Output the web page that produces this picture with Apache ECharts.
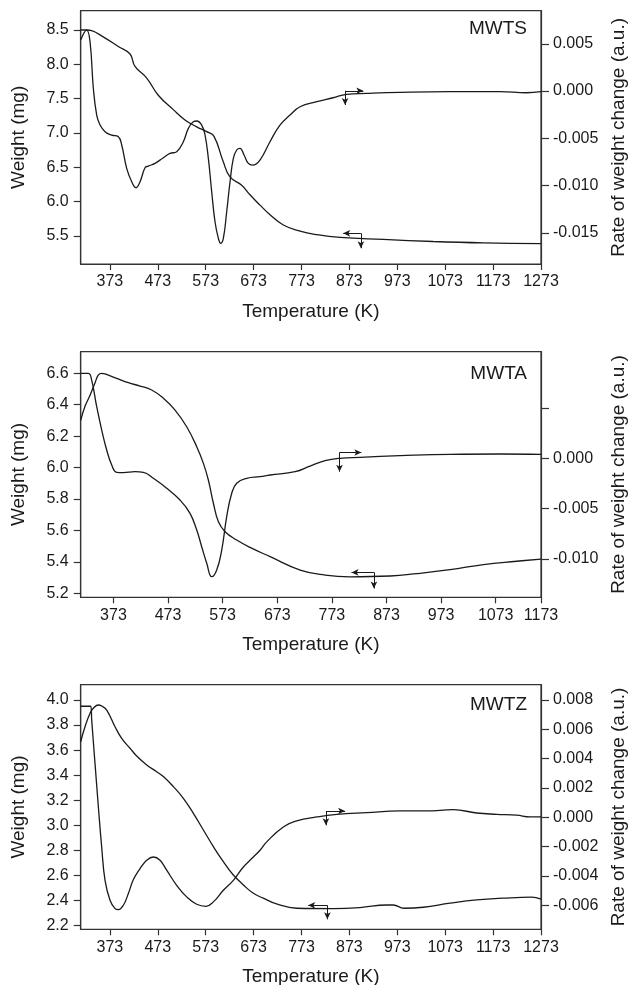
<!DOCTYPE html>
<html>
<head>
<meta charset="utf-8">
<title>TG / DTG curves</title>
<script src="https://cdn.jsdelivr.net/npm/echarts@6/dist/echarts.min.js"></script>
<style>
  html, body { margin: 0; padding: 0; background: #fff; }
  #main { width: 632px; height: 985px; }
</style>
</head>
<body>
<div id="main"></div>
<script>
// ---- data: [temperature K, value] ----
var mwtsWeight = [[312, 8.50], [324.5, 8.50], [335, 8.49], [359, 8.40], [390.5, 8.26], [415, 8.15], [425.4, 7.97],
	[449.8, 7.80], [474, 7.55], [505.3, 7.34], [529.7, 7.19], [554.2, 7.09], [575, 7.02], [590.3, 6.95],
	[609.7, 6.58], [623.7, 6.36], [648.1, 6.24], [665.4, 6.10], [686.3, 5.95], [707.2, 5.81], [735, 5.66],
	[770, 5.57], [804.7, 5.52], [853.3, 5.48], [943.7, 5.45], [1048, 5.42], [1152.5, 5.40], [1273, 5.39]];
var mwtsRate = [[312, 0.0054], [324.5, 0.00645], [331.5, 0.00522], [338.4, 0.00029], [345.4, -0.00254],
	[352.4, -0.0036], [362.8, -0.0043], [376.7, -0.00466], [390.6, -0.00483], [397.6, -0.00571], [408, -0.00818],
	[418.5, -0.0096], [427.5, -0.01023], [435.9, -0.0096], [446.3, -0.00811], [453.3, -0.00794], [467.2, -0.00765],
	[484.6, -0.00705], [498.5, -0.0066], [512.4, -0.00642], [526.3, -0.00536], [536.8, -0.00395], [547.2, -0.00325],
	[554.2, -0.00317], [564.6, -0.0036], [571.6, -0.00466], [578.5, -0.00712], [585.5, -0.01065], [592.4, -0.01383],
	[599.4, -0.01559], [604.3, -0.01611], [609.8, -0.01559], [616.8, -0.01277], [623.8, -0.0096], [630.7, -0.00712],
	[637.7, -0.00624], [644.6, -0.00606], [653, -0.00677], [662, -0.00765], [671.1, -0.00783], [686.3, -0.0073],
	[707.2, -0.00536], [728, -0.0036], [749, -0.00254], [770, -0.00166], [805, -0.00113], [839, -0.00071],
	[867, -0.00035], [909, -0.00025], [979, -0.00014], [1083, -0.00007], [1187, -0.00007], [1243, -0.00018], [1273, -0.00007]];

var mwtaWeight = [[313, 6.30], [320.9, 6.39], [330.1, 6.46], [339.3, 6.54], [345.4, 6.59], [351.5, 6.60], [357.6, 6.596],
	[378.9, 6.568], [400.3, 6.54], [421.7, 6.519], [443, 6.494], [464.4, 6.441], [485.8, 6.366], [507.1, 6.26],
	[525.5, 6.133], [537.7, 6.027], [546.8, 5.921], [556, 5.773], [565.2, 5.655], [577.4, 5.592], [598.7, 5.539],
	[623.1, 5.492], [660, 5.433], [715, 5.348], [760.6, 5.316], [806.4, 5.305], [879.7, 5.31], [928.5, 5.325],
	[989.5, 5.35], [1050.6, 5.383], [1111.6, 5.404], [1156, 5.418]];
var mwtaRate = [[313, 0.00845], [327, 0.00845], [333.1, 0.00778], [342.3, 0.00513], [351.5, 0.00281], [360.6, 0.00083],
	[369.8, -0.00067], [378.9, -0.00139], [391.1, -0.00142], [412.5, -0.00133], [427.8, -0.00139], [446.1, -0.00199],
	[470.5, -0.00298], [494.9, -0.00415], [513.2, -0.00547], [525.5, -0.00713], [534.6, -0.00879], [543.8, -0.01044],
	[553, -0.01177], [562.1, -0.0111], [571.3, -0.00911], [580.4, -0.0058], [589.6, -0.00348], [598.7, -0.00248],
	[617, -0.00199], [641.4, -0.00183], [660, -0.00166], [705.7, -0.00133], [733, -0.00077], [760.6, -0.00024],
	[788, 0], [824.6, 0.0001], [898, 0.00026], [989.5, 0.0004], [1081, 0.00043], [1156, 0.0004]];

var mwtzWeight = [[312, 3.667], [321, 3.787], [331.5, 3.894], [338.4, 3.934], [348.9, 3.96], [355.8, 3.952], [366.3, 3.92],
	[383.7, 3.787], [397.6, 3.694], [415, 3.615], [428.9, 3.553], [449.8, 3.482], [470.7, 3.428], [484.6, 3.389],
	[505.5, 3.309], [526.3, 3.216], [547.2, 3.096], [568.1, 2.963], [589, 2.83], [609.8, 2.71], [630.7, 2.604],
	[651.6, 2.525], [672.5, 2.458], [693.2, 2.419], [721, 2.373], [763, 2.339], [839.4, 2.336], [895, 2.344],
	[950.8, 2.365], [964.6, 2.365], [987, 2.339], [1027.3, 2.347], [1083, 2.379], [1138.7, 2.405], [1194.3, 2.419],
	[1253.4, 2.427], [1273, 2.411]];
var mwtzRate = [[312, 0.00757], [330.1, 0.00757], [332.9, 0.00757], [335, 0.00661], [341.9, 0.00366], [348.9, 0.0007],
	[355.8, -0.00203], [362.8, -0.0043], [373.2, -0.00566], [383.7, -0.00623], [390.6, -0.0063], [401.1, -0.006],
	[411.5, -0.0052], [422, -0.00425], [435.9, -0.0035], [449.8, -0.00293], [463.7, -0.00271], [477.6, -0.00293],
	[491.5, -0.00361], [512.4, -0.00464], [533.3, -0.00543], [554.2, -0.00593], [573.7, -0.00607], [589, -0.00577],
	[609.8, -0.00498], [630.7, -0.0043], [651.6, -0.00339], [672.5, -0.00271], [686.4, -0.00225], [700.3, -0.00168],
	[735, -0.00066], [763, -0.00025], [804.7, 0.00002], [846.5, 0.0002], [909, 0.00032], [978.6, 0.00043],
	[1034, 0.00043], [1090, 0.00052], [1138.7, 0.00029], [1180.5, 0.0002], [1222, 0.00014], [1250, 0.00002], [1273, 0.00002]];

// tick values / labels
var tempTicks = [373, 473, 573, 673, 773, 873, 973, 1073, 1173, 1273];
var tempTickText = ['373', '473', '573', '673', '773', '873', '973', '1073', '1173', '1273'];
// middle panel: last tick sits on the frame edge in the original
var mwtaTempTicks = [373, 473, 573, 673, 773, 873, 973, 1073, 1156];
var mwtaTempTickText = ['373', '473', '573', '673', '773', '873', '973', '1073', '1173'];

var mwtsWeightTicks = [5.5, 6.0, 6.5, 7.0, 7.5, 8.0, 8.5];
var mwtsRateTicks = [-0.015, -0.010, -0.005, 0, 0.005];
var mwtaWeightTicks = [5.2, 5.4, 5.6, 5.8, 6.0, 6.2, 6.4, 6.6];
var mwtaRateTicks = [-0.010, -0.005, 0, 0.005];
var mwtaRateLabels = [-0.010, -0.005, 0];
var mwtzWeightTicks = [2.2, 2.4, 2.6, 2.8, 3.0, 3.2, 3.4, 3.6, 3.8, 4.0];
var mwtzRateTicks = [-0.006, -0.004, -0.002, 0, 0.002, 0.004, 0.006, 0.008];

// arrows pointing at the axis each curve belongs to
var mwtsRateArrow = {corner: [864, 0.00003], side: [902, 0.00003], down: [864, -0.00148]};
var mwtsWeightArrow = {corner: [897, 5.539], side: [860, 5.539], down: [897, 5.321]};
var mwtaRateArrow = {corner: [787, 0.00058], side: [827, 0.00058], down: [787, -0.00133]};
var mwtaWeightArrow = {corner: [850, 5.333], side: [809, 5.333], down: [850, 5.231]};
var mwtzRateArrow = {corner: [824, 0.00043], side: [864, 0.00043], down: [824, -0.00055]};
var mwtzWeightArrow = {corner: [827, 2.362], side: [787, 2.362], down: [827, 2.251]};

var FONT = '"Liberation Sans", Arial, Helvetica, sans-serif';
var INK = '#1a1a1a';
var FRAME = '#333';

var panels = [
	{name: 'MWTS', top: 10.7, height: 253.3, xMin: 312, xMax: 1273, xTicks: tempTicks, xText: tempTickText,
		wMin: 5.092, wMax: 8.781, wTicks: mwtsWeightTicks, wLabels: mwtsWeightTicks,
		rMin: -0.0183, rMax: 0.0085, rTicks: mwtsRateTicks, rLabels: mwtsRateTicks,
		weight: mwtsWeight, rate: mwtsRate, wArrow: mwtsWeightArrow, rArrow: mwtsRateArrow, labelTop: 18.7},
	{name: 'MWTA', top: 351.7, height: 245.6, xMin: 313, xMax: 1156, xTicks: mwtaTempTicks, xText: mwtaTempTickText,
		wMin: 5.1745, wMax: 6.7375, wTicks: mwtaWeightTicks, wLabels: mwtaWeightTicks,
		rMin: -0.01382, rMax: 0.0106, rTicks: mwtaRateTicks, rLabels: mwtaRateLabels,
		weight: mwtaWeight, rate: mwtaRate, wArrow: mwtaWeightArrow, rArrow: mwtaRateArrow, labelTop: 363.7},
	{name: 'MWTZ', top: 684.7, height: 244.6, xMin: 312, xMax: 1273, xTicks: tempTicks, xText: tempTickText,
		wMin: 2.171, wMax: 4.122, wTicks: mwtzWeightTicks, wLabels: mwtzWeightTicks,
		rMin: -0.00764, rMax: 0.00904, rTicks: mwtzRateTicks, rLabels: mwtzRateTicks,
		weight: mwtzWeight, rate: mwtzRate, wArrow: mwtzWeightArrow, rArrow: mwtzRateArrow, labelTop: 694.5}
];

function arrowLines(a) {
	return {
		silent: true,
		animation: false,
		symbol: ['none', 'arrow'],
		symbolSize: [5, 7],
		label: {show: false},
		emphasis: {disabled: true},
		lineStyle: {color: INK, width: 1, type: 'solid'},
		data: [
			[{coord: a.corner}, {coord: a.side}],
			[{coord: a.corner}, {coord: a.down}]
		]
	};
}

var grids = [], xAxes = [], yAxes = [], series = [], titles = [];

for (var i = 0; i < panels.length; i++) {
	var p = panels[i];
	grids.push({
		left: 80.7, width: 460.3, top: p.top, height: p.height,
		show: true, borderColor: FRAME, borderWidth: 1.2, backgroundColor: 'transparent',
		containLabel: false, outerBoundsMode: 'none'
	});
	(function (p) {
		xAxes.push({
			gridIndex: i, type: 'value', min: p.xMin, max: p.xMax,
			name: 'Temperature (K)', nameLocation: 'middle', nameGap: 38,
			nameTextStyle: {fontSize: 19, color: INK, fontFamily: FONT},
			axisLine: {show: true, onZero: false, lineStyle: {color: FRAME, width: 1.2}},
			axisTick: {show: true, length: 6, customValues: p.xTicks, lineStyle: {color: FRAME, width: 1.2}},
			axisLabel: {
				customValues: p.xTicks, margin: 10, fontSize: 16, color: INK, fontFamily: FONT,
				formatter: function (v) {
					var k = p.xTicks.indexOf(v);
					return k >= 0 ? p.xText[k] : '';
				}
			},
			splitLine: {show: false}
		});
	})(p);
	yAxes.push({
		gridIndex: i, type: 'value', position: 'left', min: p.wMin, max: p.wMax,
		name: 'Weight (mg)', nameLocation: 'middle', nameGap: 52, nameRotate: 90,
		nameTextStyle: {fontSize: 19, color: INK, fontFamily: FONT},
		axisLine: {show: true, lineStyle: {color: FRAME, width: 1.2}},
		axisTick: {show: true, length: 7, customValues: p.wTicks, lineStyle: {color: FRAME, width: 1.2}},
		axisLabel: {
			customValues: p.wLabels, margin: 12, fontSize: 16, color: INK, fontFamily: FONT,
			formatter: function (v) { return v.toFixed(1); }
		},
		splitLine: {show: false}
	});
	yAxes.push({
		gridIndex: i, type: 'value', position: 'right', min: p.rMin, max: p.rMax,
		name: 'Rate of weight change (a.u.)', nameLocation: 'middle', nameGap: 64, nameRotate: 90,
		nameTextStyle: {fontSize: 19, color: INK, fontFamily: FONT},
		axisLine: {show: true, lineStyle: {color: FRAME, width: 1.2}},
		axisTick: {show: true, length: 8, customValues: p.rTicks, lineStyle: {color: FRAME, width: 1.2}},
		axisLabel: {
			customValues: p.rLabels, margin: 12, fontSize: 16, color: INK, fontFamily: FONT,
			formatter: function (v) { return v.toFixed(3); }
		},
		splitLine: {show: false}
	});
	series.push({
		name: p.name + ' weight', type: 'line', xAxisIndex: i, yAxisIndex: 2 * i,
		data: p.weight, showSymbol: false, symbol: 'none', smooth: 0.45,
		lineStyle: {color: INK, width: 1.3}, silent: true, animation: false,
		markLine: arrowLines(p.wArrow)
	});
	series.push({
		name: p.name + ' rate', type: 'line', xAxisIndex: i, yAxisIndex: 2 * i + 1,
		data: p.rate, showSymbol: false, symbol: 'none', smooth: 0.45,
		lineStyle: {color: INK, width: 1.3}, silent: true, animation: false,
		markLine: arrowLines(p.rArrow)
	});
	titles.push({
		text: p.name, right: 105, top: p.labelTop, padding: 0,
		textStyle: {fontSize: 19, fontWeight: 'normal', color: INK, fontFamily: FONT, lineHeight: 20}
	});
}

var myChart = echarts.init(document.getElementById('main'), null, {renderer: 'canvas'});
myChart.setOption({
	animation: false,
	backgroundColor: '#fff',
	title: titles,
	grid: grids,
	xAxis: xAxes,
	yAxis: yAxes,
	series: series
});
</script>
</body>
</html>
